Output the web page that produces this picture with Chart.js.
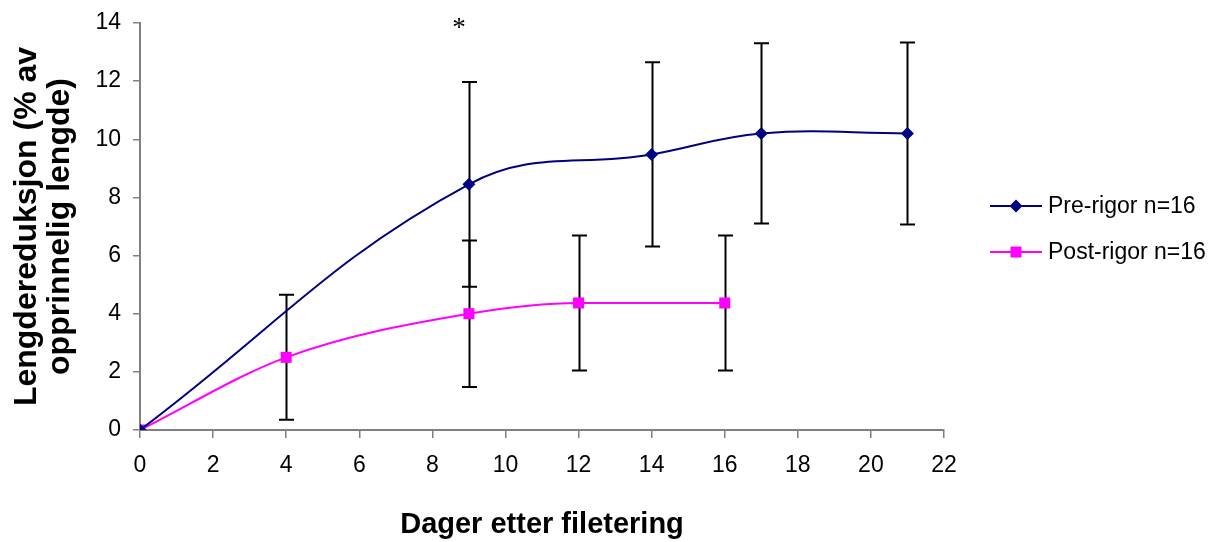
<!DOCTYPE html>
<html>
<head>
<meta charset="utf-8">
<script src="https://cdn.jsdelivr.net/npm/chart.js@4.4.0/dist/chart.umd.min.js"></script>
<style>
  html, body { margin: 0; padding: 0; background: #fff; }
  #wrap { width: 1229px; height: 542px; }
</style>
</head>
<body>
<div id="wrap"><canvas id="lineChart" width="1229" height="542"></canvas></div>
<script>
// dager etter filetering
var preDager = [0, 9, 14, 17, 21];
var preVerdi = [0, 8.45, 9.48, 10.2, 10.2];
var preFeil  = [0, 3.52, 3.17, 3.1, 3.13];

var postDager = [0, 4, 9, 12, 16];
var postVerdi = [0, 2.5, 4.0, 4.37, 4.37];
var postFeil  = [0, 2.15, 2.52, 2.32, 2.32];

var xTicks = [0, 2, 4, 6, 8, 10, 12, 14, 16, 18, 20, 22];
var yTicks = [0, 2, 4, 6, 8, 10, 12, 14];

var signifikant = [9]; // stjerne over dag 9

var fontNavn = "'Liberation Sans', Arial, sans-serif";

function lagPunkter(xs, ys){
    var ut = [];
    for (var i = 0; i < xs.length; i++) {
        ut.push({x: xs[i], y: ys[i]});
    }
    return ut;
}

/**
 * Feilstolper, stjerne og egen forklaring
 */
var ekstraPlugin = {
    id: 'ekstra',
    beforeDatasetsDraw: function(chart){
        var ctx = chart.ctx;
        var xs = chart.scales.x, ys = chart.scales.y;
        var serier = [[preDager, preVerdi, preFeil], [postDager, postVerdi, postFeil]];
        ctx.save();
        ctx.strokeStyle = '#000';
        ctx.lineWidth = 2;
        serier.forEach(function(s){
            for (var i = 0; i < s[0].length; i++) {
                if (!s[2][i]) continue;
                var px = Math.round(xs.getPixelForValue(s[0][i])) + 0.5;
                var top = ys.getPixelForValue(s[1][i] + s[2][i]);
                var bot = ys.getPixelForValue(s[1][i] - s[2][i]);
                ctx.beginPath();
                ctx.moveTo(px, top); ctx.lineTo(px, bot);
                ctx.moveTo(px - 7.5, top); ctx.lineTo(px + 7.5, top);
                ctx.moveTo(px - 7.5, bot); ctx.lineTo(px + 7.5, bot);
                ctx.stroke();
            }
        });
        ctx.restore();
    },
    afterDraw: function(chart){
        var ctx = chart.ctx;
        var xs = chart.scales.x, ys = chart.scales.y;
        ctx.save();
        // stjerne
        ctx.fillStyle = '#000';
        ctx.font = "27px 'Liberation Serif', 'Times New Roman', serif";
        ctx.textAlign = 'center';
        ctx.textBaseline = 'middle';
        signifikant.forEach(function(d){
            ctx.fillText('*', xs.getPixelForValue(d) - 10, ys.getPixelForValue(14) + 6);
        });

        // forklaring
        var x0 = 990, x1 = 1042;
        var rader = [[206, chart.data.datasets[0]], [252, chart.data.datasets[1]]];
        ctx.font = "23px " + fontNavn;
        ctx.textAlign = 'left';
        rader.forEach(function(r){
            var y = r[0], ds = r[1];
            ctx.strokeStyle = ds.borderColor;
            ctx.lineWidth = 2;
            ctx.beginPath();
            ctx.moveTo(x0, y); ctx.lineTo(x1, y);
            ctx.stroke();
            ctx.fillStyle = ds.pointBackgroundColor;
            var mx = (x0 + x1) / 2;
            ctx.beginPath();
            if (ds.pointStyle === 'rectRot') {
                ctx.moveTo(mx, y - 6.5); ctx.lineTo(mx + 6.5, y); ctx.lineTo(mx, y + 6.5); ctx.lineTo(mx - 6.5, y);
                ctx.closePath();
            } else {
                ctx.rect(mx - 5.5, y - 5.5, 11, 11);
            }
            ctx.fill();
            ctx.fillStyle = '#000';
            ctx.fillText(ds.label, 1048, y + 1);
        });
        ctx.restore();
    }
};

var ctx = document.getElementById('lineChart').getContext('2d');
var myChart = new Chart(ctx, {
    type: 'line',
    data: {
        datasets: [{
            label: 'Pre-rigor n=16',
            data: lagPunkter(preDager, preVerdi),
            borderColor: '#000080',
            backgroundColor: '#000080',
            pointBackgroundColor: '#000080',
            pointBorderColor: '#000080',
            pointStyle: 'rectRot',
            pointRadius: 6.5,
            pointBorderWidth: 0,
            borderWidth: 2,
            tension: 0.4,
            fill: false
        }, {
            label: 'Post-rigor n=16',
            data: lagPunkter(postDager, postVerdi),
            borderColor: '#FF00FF',
            backgroundColor: '#FF00FF',
            pointBackgroundColor: '#FF00FF',
            pointBorderColor: '#FF00FF',
            pointStyle: 'rect',
            pointRadius: 7.8,
            pointBorderWidth: 0,
            borderWidth: 2,
            cubicInterpolationMode: 'monotone',
            fill: false
        }]
    },
    options: {
        responsive: false,
        animation: false,
        events: [],
        layout: { padding: { top: 23, right: 285, left: 0, bottom: 0 } },
        plugins: {
            legend: { display: false },
            tooltip: { enabled: false }
        },
        scales: {
            x: {
                type: 'linear',
                min: 0, max: 22,
                afterBuildTicks: function(scale){
                    scale.ticks = xTicks.map(function(v){ return {value: v}; });
                },
                afterFit: function(scale){
                    scale.height = 112;
                    scale.paddingLeft = 0;
                    scale.paddingRight = 0;
                },
                grid: { display: true, drawOnChartArea: false, drawTicks: true, tickLength: 8, color: '#808080', lineWidth: 1.5 },
                border: { color: '#808080', width: 2 },
                ticks: { color: '#000', font: { family: fontNavn, size: 23 }, padding: 14, maxRotation: 0 },
                title: {
                    display: true,
                    text: 'Dager etter filetering',
                    color: '#000',
                    font: { family: fontNavn, size: 29, weight: 'bold' },
                    padding: { top: 10, bottom: 0 }
                }
            },
            y: {
                type: 'linear',
                min: 0, max: 14,
                afterBuildTicks: function(scale){
                    scale.ticks = yTicks.map(function(v){ return {value: v}; });
                },
                afterFit: function(scale){
                    scale.width = 140;
                    scale.paddingTop = 0;
                    scale.paddingBottom = 0;
                },
                grid: { display: true, drawOnChartArea: false, drawTicks: true, tickLength: 7, color: '#808080', lineWidth: 1.5 },
                border: { color: '#808080', width: 2 },
                ticks: { color: '#000', font: { family: fontNavn, size: 23 }, padding: 12 },
                title: {
                    display: true,
                    text: ['Lengdereduksjon (% av', 'opprinnelig lengde)'],
                    color: '#000',
                    font: { family: fontNavn, size: 32, weight: 'bold', lineHeight: 1.05 },
                    padding: { top: 10, bottom: 0 }
                }
            }
        }
    },
    plugins: [ekstraPlugin]
});
</script>
</body>
</html>
